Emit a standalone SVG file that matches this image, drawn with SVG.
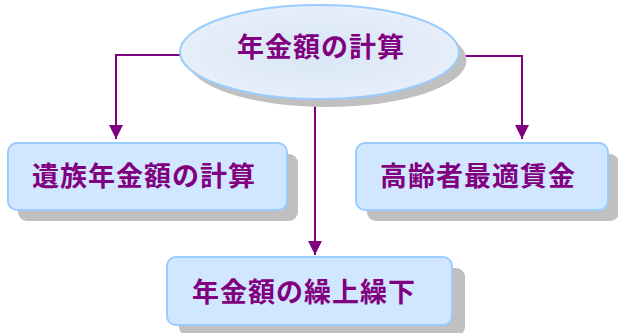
<svg xmlns="http://www.w3.org/2000/svg" width="618" height="333" viewBox="0 0 618 333">
<defs>
<radialGradient id="eg" cx="50%" cy="50%" r="60%">
<stop offset="0" stop-color="#D9E6F5"/>
<stop offset="1" stop-color="#E8F0FA"/>
</radialGradient>
<marker id="ah" viewBox="0 0 10 10" refX="10" refY="5" markerWidth="14" markerHeight="14" markerUnits="userSpaceOnUse" orient="auto">
<path d="M0,0 L10,5 L0,10 z" fill="#800080"/>
</marker>
</defs>
<style>
.shadow{fill:#C0C0C0}
.box{fill:#D1E6FF;stroke:#99CCFF;stroke-width:2}
.lbl{font-family:"Noto Sans CJK JP","Noto Sans CJK SC",sans-serif;font-weight:bold;font-size:27px;fill:#800080;letter-spacing:1px}
.conn{fill:none;stroke:#800080;stroke-width:2}
</style>
<g id="connectors">
<path class="conn" d="M181,55 H116 V139" marker-end="url(#ah)"/>
<path class="conn" d="M458,56 H522 V139" marker-end="url(#ah)"/>
<path class="conn" d="M315,99 V255" marker-end="url(#ah)"/>
</g>
<g id="n-top">
<ellipse class="shadow" cx="327" cy="60" rx="139.5" ry="47"/>
<ellipse cx="319.5" cy="52" rx="139.5" ry="47" fill="url(#eg)" stroke="#99CCFF" stroke-width="2"/>
<text class="lbl" x="237" y="57">年金額の計算</text>
</g>
<g id="n-left">
<rect class="shadow" x="18" y="154" width="280" height="67" rx="9"/>
<rect class="box" x="8" y="143" width="279" height="67" rx="9"/>
<text class="lbl" x="32" y="186">遺族年金額の計算</text>
</g>
<g id="n-right">
<rect class="shadow" x="367" y="154" width="252" height="67" rx="9"/>
<rect class="box" x="356" y="143" width="252" height="67" rx="9"/>
<text class="lbl" x="380" y="186">高齢者最適賃金</text>
</g>
<g id="n-bottom">
<rect class="shadow" x="179" y="268" width="286" height="68" rx="9"/>
<rect class="box" x="167" y="257" width="285" height="68" rx="9"/>
<text class="lbl" x="192" y="302">年金額の繰上繰下</text>
</g>
</svg>
